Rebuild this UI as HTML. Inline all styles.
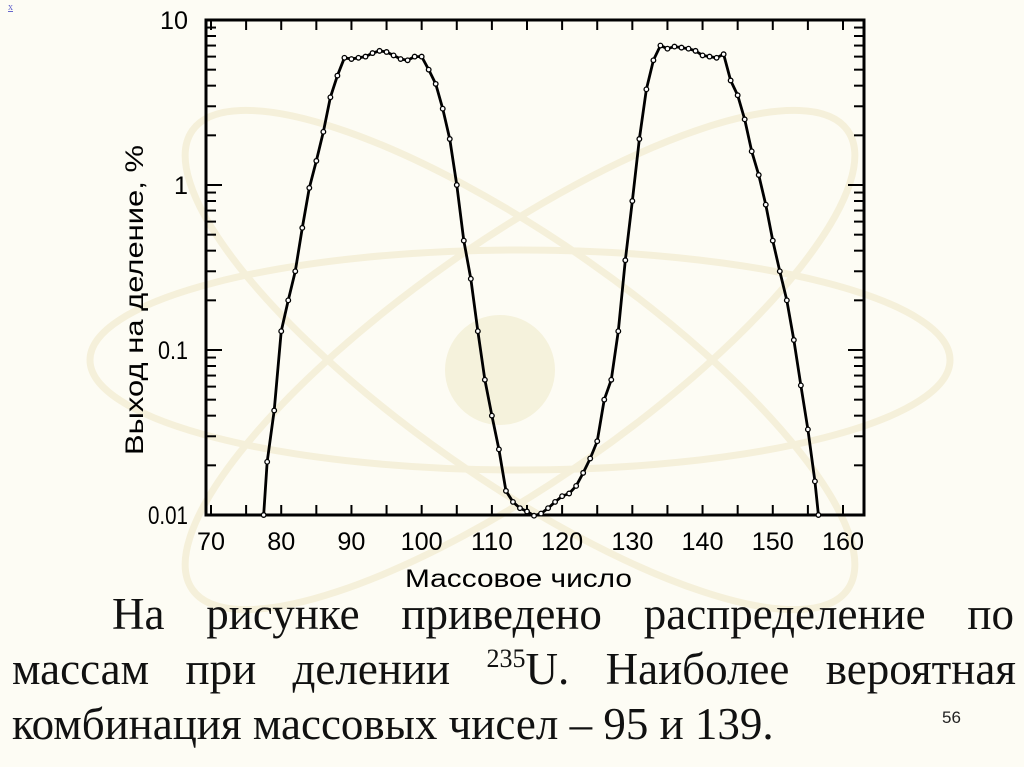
<!DOCTYPE html>
<html><head><meta charset="utf-8">
<style>
html,body{margin:0;padding:0;background:#fdfcf4;}
#wrap{position:relative;width:1024px;height:767px;overflow:hidden;background:#fdfcf4;font-family:"Liberation Sans",sans-serif;}
svg{position:absolute;left:0;top:0;}
.ln{position:absolute;left:12px;width:1004px;font-family:"Liberation Serif",serif;font-size:45px;line-height:55px;color:#111;text-align:justify;text-align-last:justify;white-space:nowrap;}
</style></head><body>
<div id="wrap">
<svg id="chart" width="1024" height="767">
 <g fill="none" stroke="#f3ecd0" stroke-width="7" opacity="0.7">
  <ellipse cx="520" cy="360" rx="430" ry="110"/>
  <ellipse cx="520" cy="360" rx="400" ry="120" transform="rotate(35 520 360)"/>
  <ellipse cx="520" cy="360" rx="400" ry="120" transform="rotate(-35 520 360)"/>
  <circle cx="500" cy="370" r="55" fill="#f3eed2" stroke="none"/>
 </g>
</svg>
<div style="position:absolute;left:8px;top:2px;font-size:10px;color:#66c;font-family:'Liberation Serif',serif;text-decoration:underline">x</div>
<div>
<div class="ln" style="top:587px;left:112px;width:902px">На рисунке приведено распределение по</div>
<div class="ln" style="top:642px">массам при делении <sup style="font-size:26px;vertical-align:17px;line-height:0">235</sup>U. Наиболее вероятная</div>
<div class="ln" style="top:697px;text-align-last:left;width:auto">комбинация массовых чисел – 95 и 139.</div>
</div>
<div style="position:absolute;left:942px;top:708px;font-size:17px;color:#222">56</div>
</div>
<script>
const massNumbers=[77.5,78,79,80,81,82,83,84,85,86,87,88,89,90,91,92,93,94,95,96,97,98,99,100,101,102,103,104,105,106,107,108,109,110,111,112,113,114,115,116,117,118,119,120,121,122,123,124,125,126,127,128,129,130,131,132,133,134,135,136,137,138,139,140,141,142,143,144,145,146,147,148,149,150,151,152,153,154,155,156,156.5];
const yields=[0.01,0.021,0.043,0.13,0.2,0.3,0.55,0.96,1.4,2.1,3.4,4.6,5.9,5.8,5.9,6.0,6.3,6.5,6.4,6.1,5.8,5.7,6.0,6.0,5.0,4.1,2.9,1.9,1.0,0.46,0.27,0.13,0.066,0.04,0.025,0.014,0.012,0.011,0.0105,0.0099,0.0102,0.011,0.012,0.013,0.0135,0.015,0.018,0.022,0.028,0.05,0.066,0.13,0.35,0.8,1.9,3.8,5.7,7.0,6.7,6.9,6.8,6.7,6.5,6.1,6.0,5.9,6.2,4.3,3.5,2.5,1.6,1.15,0.76,0.46,0.3,0.2,0.115,0.061,0.033,0.016,0.01];
const xTickLabels=[70,80,90,100,110,120,130,140,150,160];
const yTickValues=[10,1,0.1,0.01];
const yTickLabels=["10","1","0.1","0.01"];
const NS="http://www.w3.org/2000/svg";
const svg=document.getElementById('chart');
const L=206,R=864,T=20,B=515;
function xs(m){return 211+(m-70)*(843-211)/90;}
function ys(v){return T+(Math.log10(10)-Math.log10(v))*(B-T)/3;}
function mk(tag,a,p){const e=document.createElementNS(NS,tag);for(const k in a)e.setAttribute(k,a[k]);(p||svg).appendChild(e);return e;}
const frame=mk('rect',{x:L,y:T,width:R-L,height:B-T,fill:'none',stroke:'#000','stroke-width':3});


const ticks=mk('g',{stroke:'#000','stroke-width':2});


for(let m=70;m<=160;m+=5){const x=xs(m);
 mk('line',{x1:x,y1:B,x2:x,y2:B-10},ticks);mk('line',{x1:x,y1:T,x2:x,y2:T+10},ticks);}
for(let d=0;d<3;d++){for(let k=1;k<=10;k++){const v=Math.pow(10,-2+d)*k;const y=ys(v);const len=k===1||k===10?16:10;
 mk('line',{x1:L,y1:y,x2:L+len,y2:y},ticks);mk('line',{x1:R,y1:y,x2:R-len,y2:y},ticks);}}
const F='Liberation Sans, sans-serif';
xTickLabels.forEach(v=>{const s=String(v);const t=mk('text',{x:xs(v)-s.length*7,y:550,'font-size':25,'font-family':F,fill:'#000',textLength:s.length*14,lengthAdjust:'spacingAndGlyphs'});t.textContent=s;
 
 });
yTickValues.forEach((v,i)=>{const s=yTickLabels[i];const w=s.length*10+ (s.includes('.')?0:4*s.length);const t=mk('text',{x:188-w,y:ys(v)+9,'font-size':25,'font-family':F,fill:'#000',textLength:w,lengthAdjust:'spacingAndGlyphs'});t.textContent=s;
 
 });
const xt=mk('text',{x:405,y:587,'font-size':25,'font-family':F,fill:'#000',textLength:227,lengthAdjust:'spacingAndGlyphs'});xt.textContent='Массовое число';


const yt=mk('text',{x:-155,y:0,'font-size':25,'font-family':F,fill:'#000',textLength:310,lengthAdjust:'spacingAndGlyphs',transform:'translate(143,300) rotate(-90)'});yt.textContent='Выход на деление, %';


const pts=massNumbers.map((m,i)=>xs(m)+','+ys(yields[i])).join(' ');
const line=mk('polyline',{points:pts,fill:'none',stroke:'#000','stroke-width':2.8,'stroke-linejoin':'round'});


massNumbers.forEach((m,i)=>{const c=mk('circle',{cx:xs(m),cy:ys(yields[i]),r:2.3,fill:'#fff',stroke:'#000','stroke-width':1.3});
 
 });
</script>
</body></html>
